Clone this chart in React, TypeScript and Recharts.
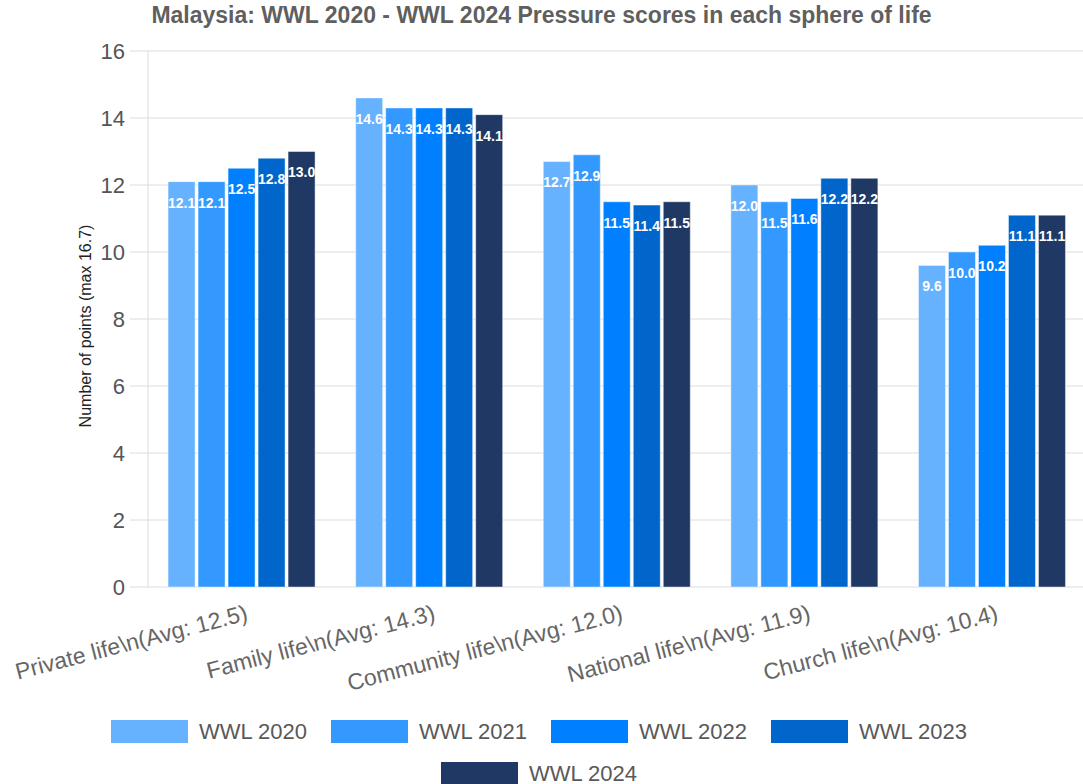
import React from "react";
import { BarChart, Bar, XAxis, YAxis, CartesianGrid, LabelList, Label } from "recharts";

const categories = [
  "Private life\\n(Avg: 12.5)",
  "Family life\\n(Avg: 14.3)",
  "Community life\\n(Avg: 12.0)",
  "National life\\n(Avg: 11.9)",
  "Church life\\n(Avg: 10.4)",
];
const wwl2020 = [12.1, 14.6, 12.7, 12.0, 9.6];
const wwl2021 = [12.1, 14.3, 12.9, 11.5, 10.0];
const wwl2022 = [12.5, 14.3, 11.5, 11.6, 10.2];
const wwl2023 = [12.8, 14.3, 11.4, 12.2, 11.1];
const wwl2024 = [13.0, 14.1, 11.5, 12.2, 11.1];
const seriesNames = ["WWL 2020", "WWL 2021", "WWL 2022", "WWL 2023", "WWL 2024"];
const seriesColors = ["#66b2ff", "#3399ff", "#0080ff", "#0066cc", "#203864"];
const yTicks = [0, 2, 4, 6, 8, 10, 12, 14, 16];
const gridTicks = [0, 1, 2, 3, 4, 5];
const title = "Malaysia: WWL 2020 - WWL 2024 Pressure scores in each sphere of life";
const yLabel = "Number of points (max 16.7)";

const seriesValues = [wwl2020, wwl2021, wwl2022, wwl2023, wwl2024];
const data = categories.map((c, i) => {
  const row: any = { category: c };
  seriesNames.forEach((s, k) => (row[s] = seriesValues[k][i]));
  return row;
});

const FONT = "'Liberation Sans', Arial, sans-serif";

const XTick = (props: any) => {
  const { x, y, payload } = props;
  const ax = x + 7;
  const ay = y + 25;
  return (
    <text
      x={ax}
      y={ay}
      textAnchor="end"
      fontSize={23}
      fill="#666"
      fontFamily={FONT}
      transform={`rotate(-14.5, ${ax}, ${ay})`}
    >
      {payload.value}
    </text>
  );
};

const YLabelContent = (props: any) => {
  const vb = props.viewBox || { y: 51, height: 536 };
  const cx = 85;
  const cy = vb.y + vb.height / 2 + 7;
  return (
    <text
      x={cx}
      y={cy}
      textAnchor="middle"
      dominantBaseline="central"
      fontSize={16}
      fill="#222"
      fontFamily={FONT}
      transform={`rotate(-90, ${cx}, ${cy})`}
    >
      {yLabel}
    </text>
  );
};

export default function App() {
  return (
    <div
      style={{
        position: "absolute",
        left: 0,
        top: 0,
        width: 1083,
        height: 784,
        overflow: "hidden",
        background: "#fff",
        fontFamily: FONT,
      }}
    >
      <div
        style={{
          position: "absolute",
          left: 0,
          top: 3,
          width: 1083,
          textAlign: "center",
          fontSize: 23,
          fontWeight: "bold",
          color: "#5f5f5f",
          lineHeight: "24px",
          whiteSpace: "nowrap",
        }}
      >
        {title}
      </div>
      <BarChart
        width={1100}
        height={784}
        data={data}
        margin={{ top: 51, right: 14, left: 0, bottom: 97 }}
        barCategoryGap="10.7%"
        barGap={3}
      >
        <CartesianGrid stroke="#dcdcdc" xAxisId="grid" vertical={true} horizontal={true} />
        <XAxis
          xAxisId="grid"
          type="number"
          domain={[0, 5]}
          ticks={gridTicks}
          height={0}
          tick={false}
          tickLine={{ stroke: "#dcdcdc" }}
          tickSize={14}
          axisLine={{ stroke: "#c8c8c8" }}
          allowDataOverflow
        />
        <XAxis
          xAxisId="cat"
          dataKey="category"
          height={100}
          tickLine={false}
          axisLine={false}
          tick={<XTick />}
          interval={0}
        />
        <YAxis
          width={148}
          domain={[0, 16]}
          ticks={yTicks}
          tickSize={18}
          tickMargin={5}
          tickLine={{ stroke: "#dcdcdc" }}
          axisLine={false}
          tick={{ fontSize: 22, fill: "#555", fontFamily: FONT }}
        >
          <Label content={<YLabelContent />} />
        </YAxis>
        {seriesNames.map((s, k) => (
          <Bar
            key={s}
            xAxisId="cat"
            dataKey={s}
            fill={seriesColors[k]}
            stroke="#ffffff"
            strokeOpacity={0.45}
            strokeWidth={1}
            isAnimationActive={false}
          >
            <LabelList
              dataKey={s}
              position="insideTop"
              offset={16}
              fill="#ffffff"
              fontSize={14}
              fontWeight="bold"
              fontFamily={FONT}
              formatter={(v: any) => Number(v).toFixed(1)}
            />
          </Bar>
        ))}
      </BarChart>
      <div
        style={{
          position: "absolute",
          left: 101,
          top: 720,
          width: 880,
          display: "flex",
          flexWrap: "wrap",
          justifyContent: "center",
          columnGap: 20,
          rowGap: 19,
        }}
      >
        {seriesNames.map((s, k) => (
          <div key={s} style={{ display: "flex", alignItems: "center", width: 200, height: 23 }}>
            <div style={{ width: 77, height: 23, background: seriesColors[k], flexShrink: 0 }} />
            <span
              style={{
                marginLeft: 11,
                fontSize: 22,
                color: "#595959",
                lineHeight: "23px",
                whiteSpace: "nowrap",
              }}
            >
              {s}
            </span>
          </div>
        ))}
      </div>
    </div>
  );
}
